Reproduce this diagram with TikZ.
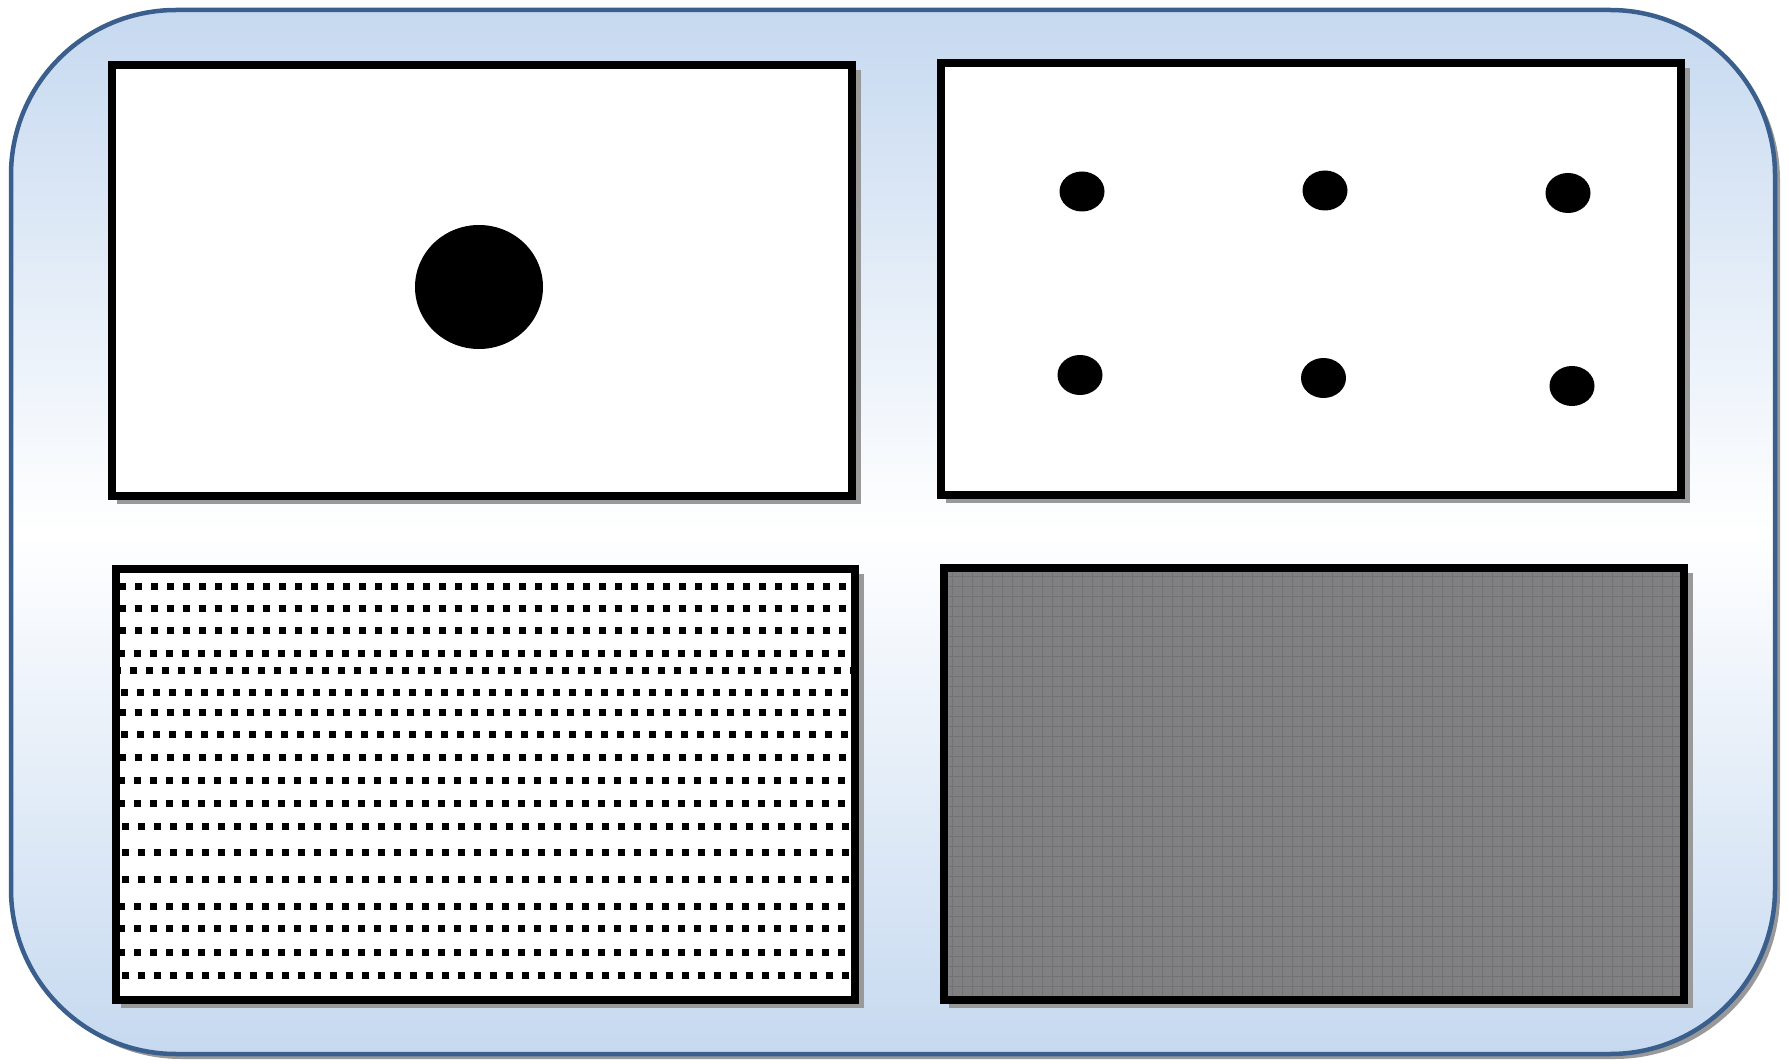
\documentclass[tikz,border=0pt]{standalone}
\definecolor{bgblue}{RGB}{198,217,240}
\definecolor{edgeblue}{RGB}{58,95,140}
\definecolor{panelgray}{RGB}{128,128,131}
\definecolor{gridgray}{RGB}{114,114,117}
\begin{document}
\begin{tikzpicture}[x=1pt,y=-1pt,
  panelframe/.style={draw=black,line width=8pt},
  panelshadow/.style={fill=black!40},
  sqdot/.style={fill=black},
  blob/.style={fill=black}]
\useasboundingbox (0,0) rectangle (1789,1064);
% outer frame
\fill[black!40, rounded corners=165pt] (16,15) rectangle (1780,1059);
\shadedraw[top color=bgblue, bottom color=bgblue, middle color=white,
  draw=edgeblue, line width=4.5pt, rounded corners=165pt] (11,10) rectangle (1775,1054);
% ---------- top-left panel ----------
\fill[panelshadow] (117,70) rectangle (861,504);
\fill[white] (112,65) rectangle (852,496);
\draw[panelframe] (112,65) rectangle (852,496);
\fill[blob] (479,287) ellipse [x radius=64, y radius=62];
% ---------- top-right panel ----------
\fill[panelshadow] (946,68) rectangle (1690,503);
\fill[white] (941,63) rectangle (1681,495);
\draw[panelframe] (941,63) rectangle (1681,495);
\foreach \cx/\cy in {1082/191.5,1325/190.5,1568/193,1080/375,1323.5/378,1572/386}
  \fill[blob] (\cx,\cy) ellipse [x radius=22.5, y radius=20];
% ---------- bottom-left panel ----------
\fill[panelshadow] (121,574) rectangle (864,1008);
\fill[white] (116,569) rectangle (855,1000);
\begin{scope}
  \clip (120,573) rectangle (851,996);
  \foreach \ry/\rx in {586/122,608/122,630/122,653/121,670/117,692/124,712/122,734/124,757/122,780/121,803/121,826/125,852/125,879/125,906/121,928/121,952/121,975/125}{
    \foreach \k in {0,...,46}{
      \fill[sqdot] ({\rx+16*\k-3.5},{\ry-3.5}) rectangle ++(7,7);
    }
  }
\end{scope}
\draw[panelframe] (116,569) rectangle (855,1000);
% ---------- bottom-right panel ----------
\fill[panelshadow] (949,573) rectangle (1693,1008);
\fill[panelgray] (944,568) rectangle (1684,1000);
\begin{scope}
  \clip (944,568) rectangle (1684,1000);
  \foreach \gx in {952,962,...,1684}
    \draw[gridgray, line width=0.8pt] (\gx,568) -- (\gx,1000);
  \foreach \gy in {576,586,...,1000}
    \draw[gridgray, line width=0.8pt] (944,\gy) -- (1684,\gy);
\end{scope}
\draw[panelframe] (944,568) rectangle (1684,1000);
\end{tikzpicture}
\end{document}
